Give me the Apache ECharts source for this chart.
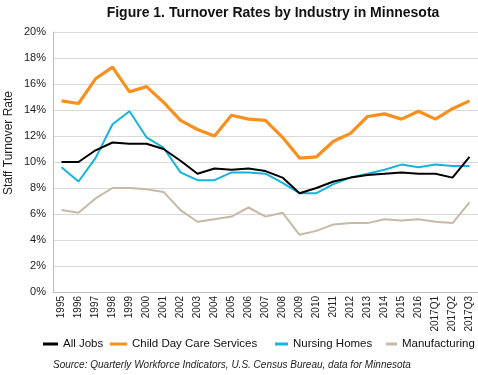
<!DOCTYPE html>
<html>
<head>
<meta charset="utf-8">
<script src="https://cdn.jsdelivr.net/npm/echarts@6/dist/echarts.min.js"></script>
<style>
    html, body { margin: 0; padding: 0; background: #fff; }
    #chart { width: 478px; height: 375px; }
</style>
</head>
<body>
<div id="chart"></div>
<script>
'use strict';

// 类别（年份）
var years = ['1995', '1996', '1997', '1998', '1999', '2000', '2001', '2002', '2003', '2004',
    '2005', '2006', '2007', '2008', '2009', '2010', '2011', '2012', '2013', '2014',
    '2015', '2016', '2017Q1', '2017Q2', '2017Q3'];

// 各行业流失率 (%)
var allJobs = [10.0, 10.0, 10.9, 11.5, 11.4, 11.4, 11.0, 10.1, 9.1, 9.5,
    9.4, 9.5, 9.3, 8.8, 7.6, 8.0, 8.5, 8.8, 9.0, 9.1,
    9.2, 9.1, 9.1, 8.8, 10.4];
var childCare = [14.7, 14.5, 16.4, 17.3, 15.4, 15.8, 14.6, 13.2, 12.5, 12.0,
    13.6, 13.3, 13.2, 11.9, 10.3, 10.4, 11.6, 12.2, 13.5, 13.7,
    13.3, 13.9, 13.3, 14.1, 14.7];
var nursingHomes = [9.6, 8.5, 10.3, 12.9, 13.9, 11.9, 11.1, 9.2, 8.6, 8.6,
    9.2, 9.2, 9.1, 8.4, 7.6, 7.6, 8.3, 8.8, 9.1, 9.4,
    9.8, 9.6, 9.8, 9.7, 9.7];
var manufacturing = [6.3, 6.1, 7.2, 8.0, 8.0, 7.9, 7.7, 6.3, 5.4, 5.6,
    5.8, 6.5, 5.8, 6.1, 4.4, 4.7, 5.2, 5.3, 5.3, 5.6,
    5.5, 5.6, 5.4, 5.3, 6.9];

// y轴刻度
var yTicks = [0, 2, 4, 6, 8, 10, 12, 14, 16, 18, 20];

var chart = echarts.init(document.getElementById('chart'));

function legendItem(name, left, width) {
    return {
        data: [name],
        left: left,
        top: 338,
        padding: 0,
        itemWidth: width,
        itemHeight: 3,
        icon: 'rect',
        selectedMode: false,
        textStyle: {
            color: '#111',
            fontSize: 11.5,
            fontFamily: 'Liberation Sans, Arial, sans-serif'
        }
    };
}

var option = {
    animation: false,
    title: {
        text: 'Figure 1. Turnover Rates by Industry in Minnesota',
        left: 268,
        textAlign: 'center',
        top: 1,
        textStyle: {
            fontSize: 14,
            fontWeight: 'bold',
            color: '#111',
            fontFamily: 'Liberation Sans, Arial, sans-serif'
        }
    },
    legend: [
        legendItem('All Jobs', 43, 15),
        legendItem('Child Day Care Services', 110, 17),
        legendItem('Nursing Homes', 275, 13),
        legendItem('Manufacturing', 386, 11)
    ],
    grid: {
        left: 53,
        right: -2,
        top: 32,
        bottom: 83
    },
    xAxis: {
        type: 'category',
        data: years,
        boundaryGap: true,
        axisLine: { lineStyle: { color: '#bdbdbd' } },
        axisTick: { inside: true, length: 7, lineStyle: { color: '#cfcfcf' } },
        axisLabel: {
            rotate: 90,
            interval: 0,
            margin: 4,
            fontSize: 10,
            color: '#222',
            fontFamily: 'Liberation Sans, Arial, sans-serif'
        }
    },
    yAxis: {
        type: 'value',
        min: yTicks[0],
        max: yTicks[yTicks.length - 1],
        interval: 2,
        axisLine: { show: true, lineStyle: { color: '#bdbdbd' } },
        axisTick: { show: false },
        splitLine: { lineStyle: { color: '#d9d9d9' } },
        axisLabel: {
            margin: 7,
            fontSize: 11,
            color: '#222',
            padding: [7, 0, 0, 0],
            fontFamily: 'Liberation Sans, Arial, sans-serif',
            formatter: '{value}%'
        }
    },
    graphic: [{
        type: 'text',
        x: 9,
        y: 143,
        rotation: Math.PI / 2,
        style: {
            text: 'Staff Turnover Rate',
            fontSize: 12,
            fill: '#222',
            fontFamily: 'Liberation Sans, Arial, sans-serif',
            align: 'center',
            verticalAlign: 'middle'
        }
    }, {
        type: 'text',
        x: 53,
        y: 365,
        style: {
            text: 'Source: Quarterly Workforce Indicators, U.S. Census Bureau, data for Minnesota',
            fontSize: 10,
            fontStyle: 'italic',
            fill: '#222',
            fontFamily: 'Liberation Sans, Arial, sans-serif',
            verticalAlign: 'middle'
        }
    }],
    series: [{
        name: 'Manufacturing',
        type: 'line',
        data: manufacturing,
        symbol: 'none',
        z: 2,
        lineStyle: { width: 2, color: '#c7b9a5' },
        itemStyle: { color: '#c7b9a5' }
    }, {
        name: 'Nursing Homes',
        type: 'line',
        data: nursingHomes,
        symbol: 'none',
        z: 3,
        lineStyle: { width: 2, color: '#14b4dc' },
        itemStyle: { color: '#14b4dc' }
    }, {
        name: 'All Jobs',
        type: 'line',
        data: allJobs,
        symbol: 'none',
        z: 4,
        lineStyle: { width: 2, color: '#000' },
        itemStyle: { color: '#000' }
    }, {
        name: 'Child Day Care Services',
        type: 'line',
        data: childCare,
        symbol: 'none',
        z: 5,
        lineStyle: { width: 3.2, color: '#f7901e' },
        itemStyle: { color: '#f7901e' }
    }]
};

chart.setOption(option);
</script>
</body>
</html>
